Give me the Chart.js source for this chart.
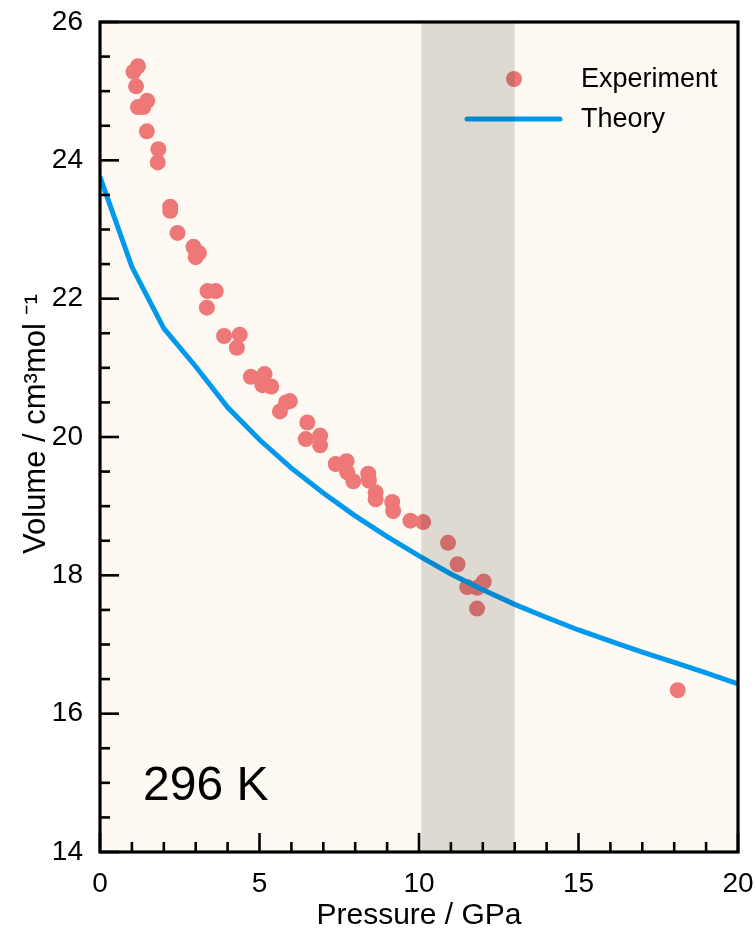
<!DOCTYPE html>
<html lang="en">
<head>
    <meta charset="UTF-8">
    <title>Volume vs Pressure, 296 K</title>
    <script src="https://cdn.jsdelivr.net/npm/chart.js"></script>
    <style>
        body { margin: 0; background: #ffffff; }
    </style>
</head>
<body>
    <div style="width:756px; height:931px; position:relative;">
        <canvas id="myChart"></canvas>
    </div>
    <script>
        // Experimental points (pressure in GPa, volume in cm3/mol)
        const expPressure = [1.19, 1.05, 1.13, 1.48, 1.19, 1.36, 1.47, 1.83, 1.81, 2.20,
                             2.20, 2.43, 2.93, 3.10, 3.00, 3.37, 3.63, 3.35, 3.89, 4.38,
                             4.29, 4.73, 5.16, 5.09, 5.37, 5.95, 5.83, 5.64, 6.50, 6.45,
                             6.90, 6.90, 7.39, 7.73, 7.75, 7.94, 8.41, 8.43, 8.64, 8.64,
                             9.16, 9.19, 9.73, 10.13, 10.91, 11.21, 11.51, 11.82, 12.03, 11.82,
                             18.11];
        const expVolume = [25.36, 25.28, 25.07, 24.86, 24.77, 24.77, 24.42, 24.16, 23.97, 23.33,
                           23.27, 22.95, 22.75, 22.66, 22.60, 22.11, 22.11, 21.87, 21.46, 21.48,
                           21.29, 20.87, 20.91, 20.75, 20.73, 20.52, 20.50, 20.37, 20.21, 19.97,
                           20.02, 19.88, 19.61, 19.65, 19.49, 19.36, 19.47, 19.37, 19.20, 19.10,
                           19.06, 18.93, 18.79, 18.77, 18.47, 18.16, 17.83, 17.82, 17.91, 17.52,
                           16.34];

        // Theory curve
        const theoryPressure = [0, 1, 2, 3, 4, 5, 6, 7, 8, 9, 10, 11, 12, 13, 14, 15, 16, 17, 18, 19, 20];
        const theoryVolume = [23.76, 22.46, 21.57, 21.02, 20.43, 19.96, 19.55, 19.19, 18.86, 18.56,
                              18.28, 18.02, 17.79, 17.58, 17.39, 17.21, 17.05, 16.89, 16.74, 16.59, 16.43];

        // shaded pressure range
        const bandRange = [10.07, 13.0];
        const tempLabel = '296 K';

        const FONT = '"Liberation Sans", Arial, Helvetica, sans-serif';

        const decor = {
            id: 'decor',
            beforeDraw(chart) {
                const { ctx, chartArea: a } = chart;
                ctx.save();
                ctx.fillStyle = '#fef9f2';
                ctx.fillRect(a.left, a.top, a.right - a.left, a.bottom - a.top);
                ctx.restore();
            },
            afterDatasetsDraw(chart) {
                const { ctx, chartArea: a, scales: { x, y } } = chart;
                const ds = chart.data.datasets;
                const exp = ds.find(d => d.label === 'Experiment');
                const th = ds.find(d => d.label === 'Theory');
                ctx.save();

                // legend
                ctx.font = '27px ' + FONT;
                ctx.textBaseline = 'middle';
                ctx.beginPath();
                ctx.arc(a.left + 414, a.top + 57, 8, 0, Math.PI * 2);
                ctx.fillStyle = exp.backgroundColor;
                ctx.fill();
                ctx.fillStyle = '#000';
                ctx.fillText(exp.label, a.left + 481, a.top + 58);

                ctx.beginPath();
                ctx.moveTo(a.left + 367, a.top + 97);
                ctx.lineTo(a.left + 460, a.top + 97);
                ctx.strokeStyle = th.borderColor;
                ctx.lineWidth = 5;
                ctx.lineCap = 'round';
                ctx.stroke();
                ctx.fillText(th.label, a.left + 481, a.top + 98);

                // temperature label
                ctx.font = '48px ' + FONT;
                ctx.textBaseline = 'alphabetic';
                ctx.fillText(tempLabel, x.getPixelForValue(1.35), y.getPixelForValue(14.75));

                // shaded band on top
                const x0 = x.getPixelForValue(bandRange[0]);
                const x1 = x.getPixelForValue(bandRange[1]);
                ctx.fillStyle = 'rgba(25, 32, 22, 0.14)';
                ctx.fillRect(x0, a.top, x1 - x0, a.bottom - a.top);
                ctx.restore();
            },
            afterDraw(chart) {
                const { ctx, chartArea: a, scales: { x, y } } = chart;
                ctx.save();
                ctx.strokeStyle = '#000';
                ctx.lineWidth = 2.6;
                // inward ticks
                for (let p = 0; p <= 20; p += 1) {
                    const px = x.getPixelForValue(p);
                    const len = p % 5 === 0 ? 19 : 10;
                    ctx.beginPath();
                    ctx.moveTo(px, a.bottom);
                    ctx.lineTo(px, a.bottom - len);
                    ctx.stroke();
                }
                for (let v = 14; v <= 26; v += 0.5) {
                    const py = y.getPixelForValue(v);
                    const len = v % 2 === 0 ? 19 : 10;
                    ctx.beginPath();
                    ctx.moveTo(a.left, py);
                    ctx.lineTo(a.left + len, py);
                    ctx.stroke();
                }
                // frame
                ctx.lineWidth = 3.2;
                ctx.strokeRect(a.left, a.top, a.right - a.left, a.bottom - a.top);
                ctx.restore();
            }
        };

        const ctx = document.getElementById('myChart').getContext('2d');

        const data = {
            datasets: [{
                label: 'Theory',
                data: theoryPressure.map((p, i) => ({ x: p, y: theoryVolume[i] })),
                showLine: true,
                borderColor: '#0099ee',
                borderWidth: 5,
                pointRadius: 0,
                fill: false,
                tension: 0,
                order: 0
            }, {
                label: 'Experiment',
                data: expPressure.map((p, i) => ({ x: p, y: expVolume[i] })),
                backgroundColor: '#ee7878',
                borderWidth: 0,
                pointRadius: 8,
                pointHoverRadius: 8,
                order: 1
            }]
        };

        const config = {
            type: 'scatter',
            data: data,
            plugins: [decor],
            options: {
                responsive: true,
                maintainAspectRatio: false,
                animation: false,
                layout: { padding: { top: 22, right: 18, left: 0, bottom: 0 } },
                plugins: {
                    legend: { display: false },
                    tooltip: { enabled: false }
                },
                scales: {
                    x: {
                        type: 'linear',
                        min: 0,
                        max: 20,
                        afterFit(scale) {
                            scale.height = 79;
                            scale.paddingLeft = 0;
                            scale.paddingRight = 0;
                        },
                        grid: { display: false, drawTicks: false },
                        border: { display: false },
                        ticks: {
                            stepSize: 5,
                            padding: 15,
                            color: '#000',
                            font: { family: FONT, size: 28 }
                        },
                        title: {
                            display: true,
                            text: 'Pressure / GPa',
                            color: '#000',
                            font: { family: FONT, size: 30, lineHeight: 1.0 },
                            padding: { top: 0, bottom: 0 }
                        }
                    },
                    y: {
                        min: 14,
                        max: 26,
                        afterFit(scale) {
                            scale.width = 100;
                            scale.paddingTop = 0;
                            scale.paddingBottom = 0;
                        },
                        grid: { display: false, drawTicks: false },
                        border: { display: false },
                        ticks: {
                            stepSize: 2,
                            padding: 17,
                            color: '#000',
                            font: { family: FONT, size: 28 }
                        },
                        title: {
                            display: true,
                            text: '   Volume / cm³mol ⁻¹',
                            color: '#000',
                            font: { family: FONT, size: 31 },
                            padding: { top: 18, bottom: 0 }
                        }
                    }
                }
            }
        };

        const myChart = new Chart(ctx, config);
    </script>
</body>
</html>
